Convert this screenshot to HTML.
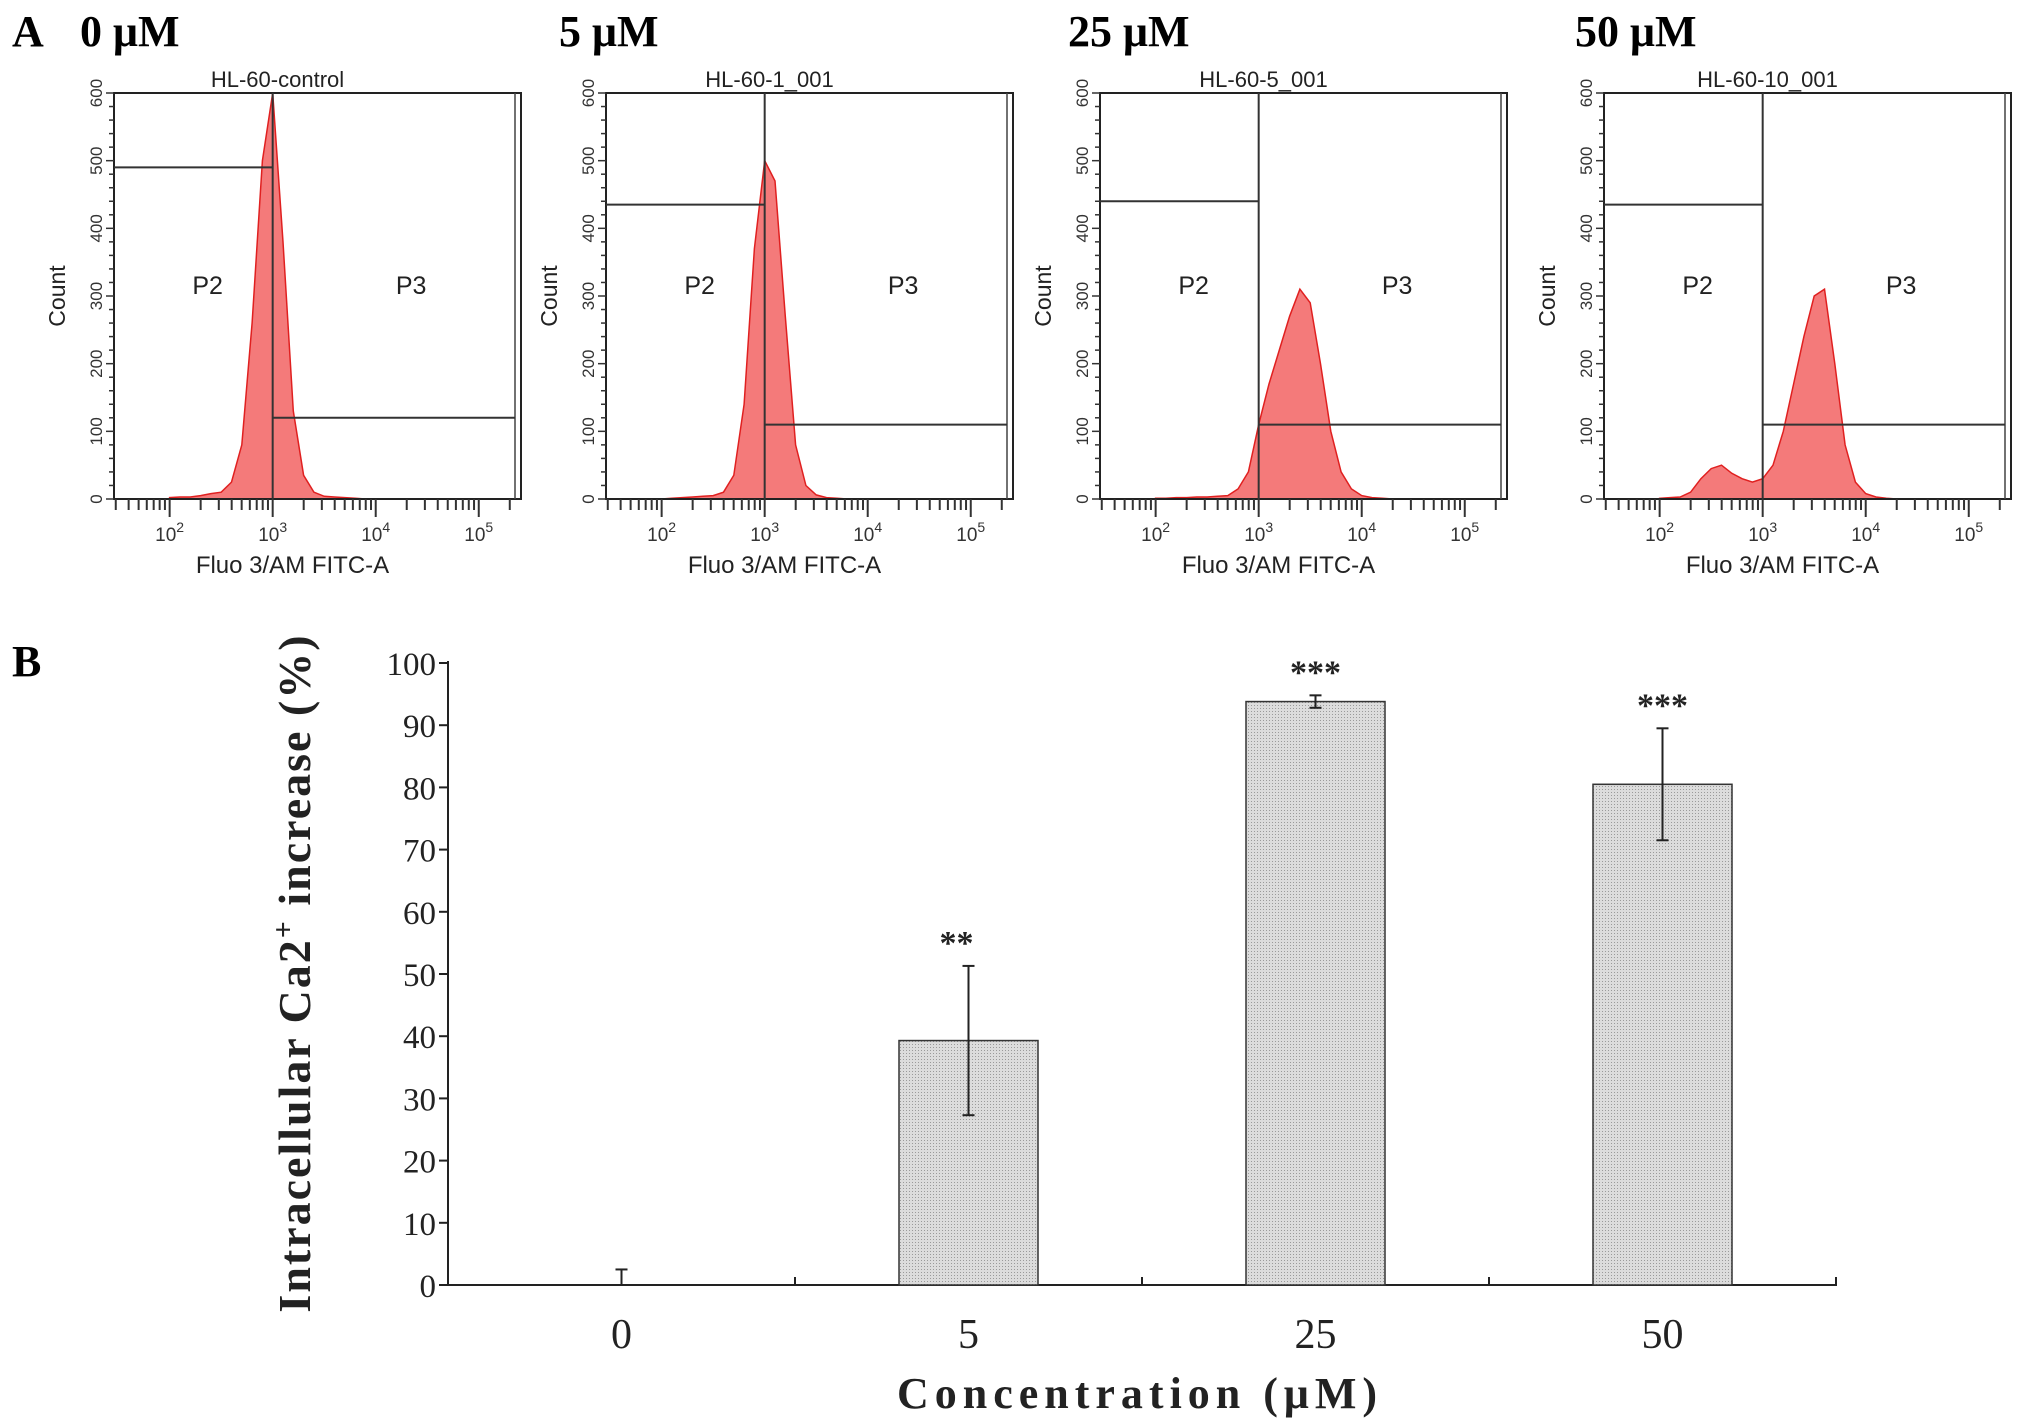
<!DOCTYPE html>
<html><head><meta charset="utf-8"><style>
html,body{margin:0;padding:0;background:#fff;}
svg{display:block;}
</style></head><body>
<svg id="fig" width="2031" height="1428" viewBox="0 0 2031 1428" xmlns="http://www.w3.org/2000/svg">
<rect width="2031" height="1428" fill="#fff"/>
<defs>
<pattern id="dots" width="3" height="3" patternUnits="userSpaceOnUse"><rect width="3" height="3" fill="#dcdcdc"/><rect width="1" height="1" fill="#9a9a9a"/></pattern>
</defs>
<g id="panelA"></g>
<g id="panelB"></g>
</svg>
<script>
// ---------- Panel A data ----------
const histLogs = [2.0,2.1,2.2,2.3,2.4,2.5,2.6,2.7,2.8,2.9,3.0,3.1,3.2,3.3,3.4,3.5,3.6,3.7,3.8,3.9,4.0,4.1,4.2,4.3,4.4];
const histControl = [2,3,3,5,8,10,25,80,260,500,600,380,130,35,10,4,3,2,1,0,0,0,0,0,0];
const hist5 = [0,1,2,3,4,5,10,35,140,370,500,470,270,80,20,6,2,1,0,0,0,0,0,0,0];
const hist25 = [1,1,2,2,3,3,4,5,15,40,110,170,220,270,310,290,200,100,40,15,5,2,1,0,0];
const hist50 = [1,2,3,10,30,45,50,38,30,25,30,50,100,170,240,300,310,200,80,25,8,3,1,0,0];
const histSeries = [histControl, hist5, hist25, hist50];
const concLabels = ["0 μM","5 μM","25 μM","50 μM"];
const sampleNames = ["HL-60-control","HL-60-1_001","HL-60-5_001","HL-60-10_001"];
const gateP2 = [490,435,440,435];
const gateP3 = [120,110,110,110];
const gateSplit = [3.0,3.0,3.0,3.0];
const countTicks = [0,100,200,300,400,500,600];
const decadeTicks = [2,3,4,5];

// ---------- Panel B data ----------
const categories = ["0","5","25","50"];
const barValues = [0,39.3,93.8,80.5];
const errValues = [2.5,12,1,9];
const sigLabels = ["","**","***","***"];
const yTicks = [0,10,20,30,40,50,60,70,80,90,100];

const NS = "http://www.w3.org/2000/svg";
function mk(tag, attrs, parent, text){
  const e = document.createElementNS(NS, tag);
  for (const k in attrs) e.setAttribute(k, attrs[k]);
  if (text !== undefined) e.textContent = text;
  parent.appendChild(e);
  return e;
}

const A = document.getElementById('panelA');
const lbl = mk('text',{x:12,y:46,'font-family':'Liberation Serif, serif','font-weight':'bold','font-size':44},A,'A');



const panelX = [114,606,1100,1604];
const panelW = 407, panelTop = 93, panelH = 406;
const logMin = 1.46, logMax = 5.41, countMax = 600;

histSeries.forEach((counts, p) => {
  const g = mk('g',{},A);
  
  
  const x0 = panelX[p], y0 = panelTop, y1 = panelTop + panelH;
  const sx = v => x0 + (v - logMin) / (logMax - logMin) * panelW;
  const sy = c => y1 - c / countMax * panelH;

  const head = mk('text',{x:[80,559,1068,1575][p], y:46,'font-family':'Liberation Serif, serif','font-weight':'bold','font-size':44},g,concLabels[p]);
  
  

  const title = mk('text',{x:x0+panelW/2 - 40,y:y0-6,'text-anchor':'middle','font-family':'Liberation Sans, sans-serif','font-size':22,fill:'#222'},g,sampleNames[p]);
  
  

  let d = 'M' + sx(histLogs[0]) + ',' + sy(0);
  histLogs.forEach((l,i) => { d += ' L' + sx(l).toFixed(1) + ',' + sy(counts[i]).toFixed(1); });
  d += ' L' + sx(histLogs[histLogs.length-1]) + ',' + sy(0) + ' Z';
  const hp = mk('path',{d:d,fill:'#f47a7a',stroke:'#e02020','stroke-width':1.5},g);
  
  

  const box = mk('rect',{x:x0,y:y0,width:panelW,height:panelH,fill:'none',stroke:'#222','stroke-width':2},g);
  
  
  mk('line',{x1:x0+panelW-6,y1:y0,x2:x0+panelW-6,y2:y1,stroke:'#444','stroke-width':1.5},g);

  const vx = sx(gateSplit[p]);
  const gv = mk('line',{x1:vx,y1:y0,x2:vx,y2:y1,stroke:'#333','stroke-width':2},g);
  
  
  const g2 = mk('line',{x1:x0,y1:sy(gateP2[p]),x2:vx,y2:sy(gateP2[p]),stroke:'#333','stroke-width':2},g);
  
  
  const g3 = mk('line',{x1:vx,y1:sy(gateP3[p]),x2:x0+panelW-6,y2:sy(gateP3[p]),stroke:'#333','stroke-width':2},g);
  
  
  const t2 = mk('text',{x:x0+panelW*0.23,y:294,'text-anchor':'middle','font-family':'Liberation Sans, sans-serif','font-size':25,fill:'#222'},g,'P2');
  
  
  const t3 = mk('text',{x:x0+panelW*0.73,y:294,'text-anchor':'middle','font-family':'Liberation Sans, sans-serif','font-size':25,fill:'#222'},g,'P3');
  
  

  for (let c = 0; c <= countMax; c += 20) {
    const yy = sy(c);
    const major = c % 100 === 0;
    mk('line',{x1:x0-(major?8:5),y1:yy,x2:x0,y2:yy,stroke:'#333','stroke-width':1.5},g);
  }
  countTicks.forEach(c => {
    const yy = sy(c);
    const t = mk('text',{x:0,y:0,transform:'translate('+(x0-12)+','+yy+') rotate(-90)','text-anchor':'middle','font-family':'Liberation Sans, sans-serif','font-size':17,fill:'#333'},g,String(c));
    
    
  });
  const ct = mk('text',{x:0,y:0,transform:'translate('+(x0-49)+','+(y0+panelH/2)+') rotate(-90)','text-anchor':'middle','font-family':'Liberation Sans, sans-serif','font-size':23,fill:'#222'},g,'Count');
  
  

  for (let dec = 1; dec <= 5; dec++) {
    for (let m = 1; m <= 9; m++) {
      const l = dec + Math.log10(m);
      if (l < logMin || l > logMax) continue;
      const xx = sx(l);
      mk('line',{x1:xx,y1:y1,x2:xx,y2:y1+(m===1?18:11),stroke:'#333','stroke-width':2},g);
    }
  }
  decadeTicks.forEach(dc => {
    const t = mk('text',{x:sx(dc),y:y1+42,'text-anchor':'middle','font-family':'Liberation Sans, sans-serif','font-size':19,fill:'#333'},g);
    
    
    mk('tspan',{},t,'10');
    mk('tspan',{dy:-9,'font-size':14},t,String(dc));
  });
  const xt = mk('text',{x:x0+panelW/2-25,y:y1+74,'text-anchor':'middle','font-family':'Liberation Sans, sans-serif','font-size':24,fill:'#222'},g,'Fluo 3/AM FITC-A');
  
  
});

// ---------- Panel B ----------
const B = document.getElementById('panelB');
const bl = mk('text',{x:12,y:676,'font-family':'Liberation Serif, serif','font-weight':'bold','font-size':44},B,'B');



const axL = 448, axR = 1837, axY0 = 1285, axY100 = 663;
const catW = 347, barW = 139;
const yS = v => axY0 - v / 100 * (axY0 - axY100);
const xS = i => axL + catW * (i + 0.5);

const yAxis = mk('line',{x1:axL,y1:axY100-2,x2:axL,y2:axY0,stroke:'#222','stroke-width':2},B);


const xAxis = mk('line',{x1:axL,y1:axY0,x2:axR,y2:axY0,stroke:'#222','stroke-width':2},B);



yTicks.forEach(v => {
  mk('line',{x1:axL-9,y1:yS(v),x2:axL,y2:yS(v),stroke:'#222','stroke-width':2},B);
  const t = mk('text',{x:axL-12,y:yS(v)+12,'text-anchor':'end','font-family':'Liberation Serif, serif','font-size':33,fill:'#222'},B,String(v));
  
  
});
for (let k = 1; k <= categories.length; k++) {
  const xx = axL + catW * k;
  mk('line',{x1:xx,y1:axY0-8,x2:xx,y2:axY0,stroke:'#222','stroke-width':2},B);
}

categories.forEach((c, i) => {
  const cx = xS(i);
  const v = barValues[i];
  if (v > 0) {
    const r = mk('rect',{x:cx-barW/2,y:yS(v),width:barW,height:axY0-yS(v),fill:'url(#dots)',stroke:'#333','stroke-width':1.5},B);
    
    
  }
  const top = yS(v + errValues[i]), bot = yS(Math.max(0, v - errValues[i]));
  const eb = mk('g',{},B);
  
  
  mk('line',{x1:cx,y1:top,x2:cx,y2:bot,stroke:'#222','stroke-width':2},eb);
  mk('line',{x1:cx-6,y1:top,x2:cx+6,y2:top,stroke:'#222','stroke-width':2},eb);
  if (v - errValues[i] > 0) mk('line',{x1:cx-6,y1:bot,x2:cx+6,y2:bot,stroke:'#222','stroke-width':2},eb);
  if (sigLabels[i]) {
    const s = mk('text',{x:cx-(i===1?12:0),y:top-12,'text-anchor':'middle','font-family':'Liberation Serif, serif','font-weight':'bold','font-size':34,fill:'#222'},B,sigLabels[i]);
    
    
  }
  const cl = mk('text',{x:cx,y:1348,'text-anchor':'middle','font-family':'Liberation Serif, serif','font-size':42,fill:'#222'},B,c);
  
  
});

const xt = mk('text',{x:1140,y:1408,'text-anchor':'middle','font-family':'Liberation Serif, serif','font-weight':'bold','font-size':44,'letter-spacing':6,fill:'#222'},B,'Concentration (μM)');



const yt = mk('text',{x:0,y:0,transform:'translate(310,973) rotate(-90)','text-anchor':'middle','font-family':'Liberation Serif, serif','font-weight':'bold','font-size':46,'letter-spacing':2,fill:'#222'},B);


mk('tspan',{},yt,'Intracellular Ca2');
mk('tspan',{dy:-17,'font-size':30},yt,'+');
mk('tspan',{dy:17},yt,' increase (%)');
</script>
</body></html>
